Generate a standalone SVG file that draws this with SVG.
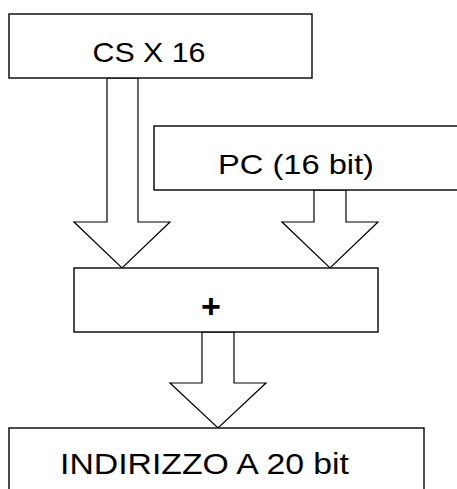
<svg xmlns="http://www.w3.org/2000/svg" width="457" height="489" viewBox="0 0 457 489">
<style>
.box{fill:#fff;stroke:#000;stroke-width:1.4}
.arr{fill:#fff;stroke:#000;stroke-width:1.2;stroke-linejoin:miter}
.t{font-family:"Liberation Sans",Arial,sans-serif;font-size:28px;fill:#000;text-anchor:middle}
</style>
<rect width="457" height="489" fill="#fff"/>
<g id="connectors">
<polygon class="arr" points="107,78 138,78 138,222 170,222 122,268 74,222 107,222"/>
<polygon class="arr" points="314,190 346,190 346,222 378,222 330,268 282,222 314,222"/>
<polygon class="arr" points="202,332 234,332 234,383 266,383 218,428 170,383 202,383"/>
</g>
<g id="cs">
<rect class="box" x="9" y="14" width="303" height="64"/>
<text class="t" x="149" y="62" textLength="113" lengthAdjust="spacingAndGlyphs">CS X 16</text>
</g>
<g id="pc">
<rect class="box" x="154" y="126" width="310" height="64"/>
<text class="t" x="296" y="174" textLength="156" lengthAdjust="spacingAndGlyphs">PC (16 bit)</text>
</g>
<g id="sum">
<rect class="box" x="74" y="268" width="304" height="64"/>
<text class="t" x="211" y="318" style="font-weight:bold;font-size:34px">+</text>
</g>
<g id="addr">
<rect class="box" x="9" y="428" width="415" height="70"/>
<text class="t" x="204.5" y="474" style="font-size:30px" textLength="289" lengthAdjust="spacingAndGlyphs">INDIRIZZO A 20 bit</text>
</g>
</svg>
